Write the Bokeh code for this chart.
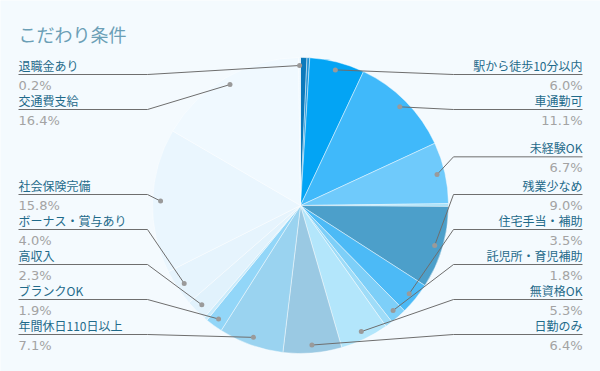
import math
from bokeh.plotting import figure
from bokeh.models import ColumnDataSource, Range1d
from bokeh.core.properties import value
from bokeh.embed import file_html
from bokeh.resources import INLINE

# ---- data (clockwise from 12 o'clock) ----
categories = ["", "", "駅から徒歩10分以内", "車通勤可", "未経験OK", "", "残業少なめ",
              "住宅手当・補助", "託児所・育児補助", "", "無資格OK", "日勤のみ",
              "年間休日110日以上", "ブランクOK", "", "高収入", "ボーナス・賞与あり",
              "社会保険完備", "交通費支給", "退職金あり"]
values = [0.7, 0.3, 6.0, 11.1, 6.7, 0.3, 9.0,
          3.5, 1.8, 0.8, 5.3, 6.4,
          7.1, 1.9, 0.4, 2.3, 4.0,
          15.8, 16.4, 0.2]
colors = ["#0b79bb", "#1e93d6", "#03a4f4", "#40b9fa", "#6fcafb", "#a6e0f8", "#4c9fca",
          "#4cbaf6", "#7dcff8", "#9edcf8", "#b3e6fb", "#9ac9e3",
          "#9ad3f0", "#92d6f8", "#c9ebfb", "#e1f2fc", "#e6f4fd",
          "#eaf6fe", "#f0f9ff", "#eef8fe"]
title_text = "こだわり条件"

W, H = 600, 371
BG = "#f4fafe"
CX, CY_IMG = 300, 205
R = 148
R_DOT = 140

p = figure(width=W, height=H, x_range=Range1d(0, W), y_range=Range1d(0, H),
           output_backend="svg", toolbar_location=None, min_border=0)
p.axis.visible = False
p.grid.visible = False
p.outline_line_color = None
p.background_fill_color = BG
p.border_fill_color = BG

def Y(y_img):
    return H - y_img

total = sum(values)
starts, ends, mids = [], [], []
acc = 0.0
for v in values:
    t0 = acc / total * 2 * math.pi
    acc += v
    t1 = acc / total * 2 * math.pi
    starts.append(math.pi / 2 - t0)
    ends.append(math.pi / 2 - t1)
    mids.append((t0 + t1) / 2)

src = ColumnDataSource(dict(start=starts, end=ends, color=colors))
p.wedge(x=CX, y=Y(CY_IMG), radius=R, start_angle="start", end_angle="end",
        direction="clock", fill_color="color", line_color="#ffffff",
        line_alpha=0.55, line_width=0.8, source=src)

# ---- label layout ----
TOP, BOTTOM, GAP = 74, 334, 35
right, left = [], []
for i, (c, v) in enumerate(zip(categories, values)):
    if not c:
        continue
    th = mids[i]
    ideal = CY_IMG - 220 * math.cos(th)
    (right if th < math.pi else left).append([i, ideal])
right.sort(key=lambda a: a[1])
left.sort(key=lambda a: a[1])

def spread(items):
    ys = [it[1] for it in items]
    prev = TOP - GAP
    for k in range(len(ys)):
        ys[k] = max(ys[k], prev + GAP, TOP)
        prev = ys[k]
    nxt = BOTTOM + GAP
    for k in range(len(ys) - 1, -1, -1):
        ys[k] = min(ys[k], nxt - GAP, BOTTOM)
        nxt = ys[k]
    for it, y in zip(items, ys):
        it[1] = y

spread(right)
spread(left)

lx, ly, dx_, dy_ = [], [], [], []
name_r = dict(x=[], y=[], t=[])
name_l = dict(x=[], y=[], t=[])
pct_r = dict(x=[], y=[], t=[])
pct_l = dict(x=[], y=[], t=[])
for side, items in (("r", right), ("l", left)):
    for i, uy in items:
        th = mids[i]
        dx = CX + R_DOT * math.sin(th)
        dy = CY_IMG - R_DOT * math.cos(th)
        dx_.append(dx)
        dy_.append(Y(dy))
        pct = f"{values[i] / total * 100:.1f}%"
        if side == "r":
            lx.append([582, 453, dx])
            nd, pd_, tx = name_r, pct_r, 582
        else:
            lx.append([18, 147, dx])
            nd, pd_, tx = name_l, pct_l, 18
        ly.append([Y(uy), Y(uy), Y(dy)])
        nd["x"].append(tx); nd["y"].append(Y(uy - 9.5)); nd["t"].append(categories[i])
        pd_["x"].append(tx); pd_["y"].append(Y(uy + 10.5)); pd_["t"].append(pct)

p.multi_line(xs=lx, ys=ly, line_color="#6e6e6e", line_width=1)
p.scatter(x=dx_, y=dy_, size=5, marker="circle", fill_color="#9a9a9a", line_color=None)

for d, align in ((name_r, "right"), (name_l, "left")):
    p.text(x="x", y="y", text="t", source=ColumnDataSource(d), text_align=align,
           text_baseline="middle", text_font=value("Noto Sans CJK JP"),
           text_font_size="12px", text_color="#1f6a8a")
for d, align in ((pct_r, "right"), (pct_l, "left")):
    p.text(x="x", y="y", text="t", source=ColumnDataSource(d), text_align=align,
           text_baseline="middle", text_font=value("DejaVu Sans"),
           text_font_size="13px", text_color="#a3a3a3")

p.text(x=[18], y=[Y(33)], text=[title_text], text_align="left", text_baseline="middle",
       text_font=value("Noto Sans CJK JP"), text_font_size="18px", text_color="#6b9fb6")

open("out.html", "w").write(file_html(p, INLINE))
